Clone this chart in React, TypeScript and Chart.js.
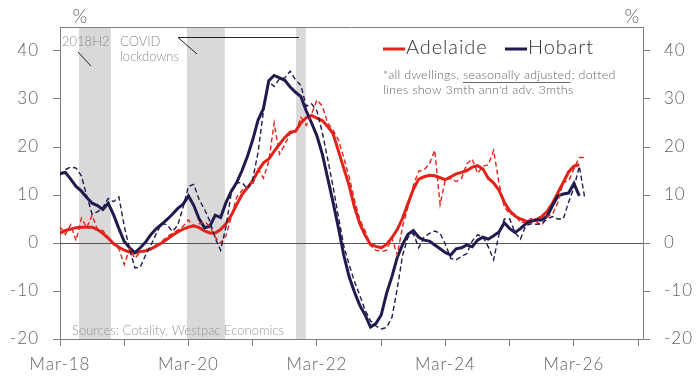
import React, { useEffect, useRef } from 'react';
import { Chart, registerables } from 'chart.js';

Chart.register(...registerables);

// months counted from Mar-18 (index 0)
const xTickLabels = ['Mar-18', 'Mar-20', 'Mar-22', 'Mar-24', 'Mar-26'];
const xTickMonths = [0, 24, 48, 72, 96];
const xAxisTicks = [0, 12, 24, 36, 48, 60, 72, 84, 96, 108];
const yTicks = [-20, -10, 0, 10, 20, 30, 40];

const shadeStarts = [3.55, 23.7, 44.1];
const shadeEnds = [9.5, 30.8, 45.9];

const adelaide = [
  2.0, 2.6, 2.9, 3.2, 3.3, 3.3, 3.3, 2.8, 2.0, 1.0,
  -0.1, -0.9, -1.5, -1.9, -2.1, -1.8, -1.6, -1.2, -0.6, 0.0,
  0.8, 1.6, 2.3, 2.9, 3.3, 3.6, 3.2, 2.5, 2.1, 2.1,
  2.8, 4.0, 5.8, 8.0, 10.1, 11.5, 13.0, 15.0, 16.7, 17.5,
  19.1, 20.6, 22.0, 23.1, 23.3, 25.0, 26.1, 26.6, 26.0, 25.5,
  24.3, 22.8, 19.2, 15.6, 12.0, 7.5, 4.0, 1.6, -0.3, -0.7,
  -1.0, -0.3, 1.1, 2.8, 5.2, 8.2, 11.2, 13.3, 13.8, 14.1,
  14.0, 13.6, 13.2, 13.8, 14.4, 14.7, 15.1, 15.8, 16.1, 15.4,
  13.5, 12.5, 11.0, 8.5, 6.7, 5.6, 5.0, 4.6, 4.5, 4.9,
  5.5, 6.6, 8.3, 10.5, 12.6, 14.8, 16.0, 16.3,
];

const adelaideDashed = [
  3.4, 1.8, 3.8, 0.5, 5.2, 3.2, 5.8, 2.8, 2.6, 1.2,
  -0.3, -1.2, -4.5, -1.2, -3.2, -1.8, -1.8, -1.3, -0.5, 0.3,
  1.3, 2.0, 2.7, 3.5, 4.8, 3.4, 4.0, 4.4, 3.5, 1.2,
  0.0, 1.5, 5.5, 9.5, 11.0, 11.5, 12.2, 15.5, 13.5, 17.0,
  25.0, 18.5, 20.5, 22.8, 23.0, 26.2, 24.5, 26.9, 29.8, 28.5,
  25.0, 23.5, 21.5, 17.8, 13.8, 9.0, 4.9, 2.5, -0.5, -1.5,
  -1.8, -1.5, 1.0, -2.5, 3.5, 7.5, 12.0, 15.0, 15.2, 16.5,
  19.3, 8.0, 13.4, 13.4, 12.8, 13.5, 16.5, 17.5, 14.5, 16.0,
  16.3, 19.3, 12.5, 7.5, 6.0, 6.0, 4.2, 4.4, 5.1, 4.4,
  3.7, 5.5, 6.0, 8.5, 12.7, 12.9, 15.5, 17.8, 17.8,
];

const hobart = [
  14.5, 14.7, 13.3, 11.8, 10.8, 9.5, 8.3, 7.8, 7.0, 8.3,
  5.9, 3.0, 0.3, -1.0, -2.0, -1.0, 0.2, 1.8, 3.0, 3.9,
  4.9, 6.0, 7.2, 8.1, 9.8, 7.8, 5.0, 3.2, 3.5, 5.8,
  5.3, 8.4, 10.8, 12.6, 15.1, 18.0, 21.5, 25.6, 28.0, 33.8,
  34.9, 34.4, 33.9, 32.5, 31.4, 30.5, 27.5, 25.0, 22.3, 18.5,
  13.5, 8.5, 3.2, -2.5, -7.0, -10.2, -13.0, -15.0, -17.5, -16.8,
  -15.0, -10.5, -7.0, -3.0, -0.3, 1.8, 2.6, 1.2, 0.6, 0.4,
  -0.4, -1.2, -2.0, -2.5, -1.2, -1.0, -0.4, -0.8, 0.6, 1.2,
  0.8, 1.5, 2.3, 4.2, 3.0, 2.2, 3.0, 4.0, 4.6, 4.8,
  4.8, 5.6, 7.8, 9.8, 10.2, 10.4, 12.4, 9.8,
];

const hobartDashed = [
  14.1, 15.3, 15.8, 15.6, 14.0, 9.8, 6.0, 6.5, 7.4, 9.3,
  8.6, 9.6, 3.5, -1.3, -5.2, -5.0, -2.5, -0.4, 2.0, 4.1,
  3.8, 2.4, 3.7, 7.5, 11.8, 12.2, 9.0, 7.0, 4.5, 1.0,
  -1.5, 3.4, 10.5, 12.5, 12.6, 11.3, 13.3, 18.9, 27.5, 33.6,
  32.6, 34.2, 34.4, 35.8, 34.0, 32.8, 28.5, 29.0, 27.5, 23.0,
  17.5, 11.8, 5.5, -0.5, -4.5, -8.0, -10.9, -14.0, -16.2, -17.3,
  -17.9, -17.6, -15.5, -9.5, -2.5, 1.2, 2.0, -1.0, 1.2, 2.0,
  2.5, 2.0, -0.3, -3.2, -3.5, -2.8, -2.2, 0.4, 1.7, 1.3,
  -0.8, -3.5, 1.8, 5.0, 5.0, 2.2, 0.8, 3.6, 4.0, 3.9,
  4.0, 5.0, 5.5, 5.0, 5.0, 8.5, 11.5, 16.0, 9.5,
];

const RED = '#e2231a';
const NAVY = '#1f1b4f';
const FONT = 'Lato, "Open Sans", sans-serif';
const AXIS = '#7f7f7f';
const TICK = '#626262';

const toPts = (arr: number[]) => arr.map((v, i) => ({ x: i, y: v }));

const setSpacing = (ctx: any, px: number) => {
  try {
    ctx.letterSpacing = `${px}px`;
  } catch (e) {
    /* ignore */
  }
};

const decorPlugin = {
  id: 'decor',
  beforeDraw(chart: any) {
    setSpacing(chart.ctx, 1);
  },
  beforeDatasetsDraw(chart: any) {
    const { ctx, chartArea, scales } = chart;
    const x = scales.x;
    const y = scales.y;
    ctx.save();
    setSpacing(ctx, 0);
    ctx.fillStyle = '#d9d9d9';
    for (let i = 0; i < shadeStarts.length; i++) {
      const a = x.getPixelForValue(shadeStarts[i]);
      const b = x.getPixelForValue(shadeEnds[i]);
      ctx.fillRect(a, chartArea.top, b - a, chartArea.bottom - chartArea.top);
    }
    // zero line
    const y0 = Math.round(y.getPixelForValue(0)) + 0.5;
    ctx.strokeStyle = '#555555';
    ctx.lineWidth = 1;
    ctx.beginPath();
    ctx.moveTo(chartArea.left, y0);
    ctx.lineTo(chartArea.right, y0);
    ctx.stroke();
    // top border
    ctx.strokeStyle = AXIS;
    ctx.beginPath();
    ctx.moveTo(chartArea.left, chartArea.top + 0.5);
    ctx.lineTo(chartArea.right, chartArea.top + 0.5);
    ctx.stroke();
    // annotations
    ctx.fillStyle = '#8c8c8c';
    ctx.font = `300 13px ${FONT}`;
    ctx.textBaseline = 'middle';
    ctx.textAlign = 'left';
    ctx.fillText('2018H2', 62, 42);
    ctx.fillText('COVID', 120, 42);
    ctx.fillText('lockdowns', 120, 57);
    ctx.fillStyle = '#999999';
    ctx.fillText('Sources: Cotality, Westpac Economics', 72, 331);
    ctx.strokeStyle = '#222222';
    ctx.lineWidth = 1;
    ctx.beginPath();
    ctx.moveTo(78, 52);
    ctx.lineTo(91, 66);
    ctx.moveTo(197, 54);
    ctx.lineTo(178, 37.5);
    ctx.lineTo(299, 37.5);
    ctx.stroke();
    ctx.restore();
  },
  afterDraw(chart: any) {
    const { ctx } = chart;
    ctx.save();
    ctx.textBaseline = 'middle';
    ctx.textAlign = 'left';
    // % labels
    setSpacing(ctx, 0);
    ctx.fillStyle = TICK;
    ctx.font = `300 19px ${FONT}`;
    ctx.textAlign = 'center';
    ctx.fillText('%', 80, 17);
    ctx.fillText('%', 632, 17);
    ctx.textAlign = 'left';
    // legend
    ctx.lineWidth = 3;
    ctx.strokeStyle = RED;
    ctx.beginPath();
    ctx.moveTo(383, 49);
    ctx.lineTo(405, 49);
    ctx.stroke();
    ctx.strokeStyle = NAVY;
    ctx.beginPath();
    ctx.moveTo(505, 49);
    ctx.lineTo(527, 49);
    ctx.stroke();
    ctx.fillStyle = '#333333';
    ctx.font = `300 20px ${FONT}`;
    setSpacing(ctx, 0.9);
    ctx.fillText('Adelaide', 406, 48);
    ctx.fillText('Hobart', 528, 48);
    // note
    ctx.fillStyle = '#666666';
    ctx.font = `300 12.5px ${FONT}`;
    setSpacing(ctx, 0.25);
    const p1 = '*all dwellings, ';
    const p2 = 'seasonally adjusted';
    const p3 = '; dotted';
    let xx = 383;
    ctx.fillText(p1, xx, 75);
    xx += ctx.measureText(p1).width;
    ctx.fillText(p2, xx, 75);
    const w2 = ctx.measureText(p2).width;
    ctx.strokeStyle = '#666666';
    ctx.lineWidth = 1;
    ctx.beginPath();
    ctx.moveTo(xx, 82.5);
    ctx.lineTo(xx + w2 - 1, 82.5);
    ctx.stroke();
    xx += w2;
    ctx.fillText(p3, xx, 75);
    ctx.fillText("lines show 3mth ann'd adv. 3mths", 383, 90);
    ctx.restore();
  },
};

export default function App() {
  const ref = useRef<HTMLCanvasElement | null>(null);
  useEffect(() => {
    if (!ref.current) return;
    const yScaleBase = (pos: 'left' | 'right') => ({
      type: 'linear' as const,
      position: pos,
      min: -20,
      max: 45,
      afterBuildTicks: (s: any) => {
        s.ticks = yTicks.map((v) => ({ value: v }));
      },
      afterFit: (s: any) => {
        s.width = pos === 'left' ? 60 : 56;
      },
      ticks: {
        color: TICK,
        font: { family: FONT, size: 17, weight: 300 },
        padding: 14,
      },
      grid: { drawOnChartArea: false, drawTicks: true, tickLength: 7, color: AXIS },
      border: { display: true, color: AXIS, width: 1 },
    });
    const chart = new Chart(ref.current, {
      type: 'line',
      data: {
        datasets: [
          {
            label: 'Hobart 3mth',
            data: toPts(hobartDashed),
            borderColor: NAVY,
            borderWidth: 1.4,
            borderDash: [5, 3],
            pointRadius: 0,
            tension: 0,
          },
          {
            label: 'Adelaide 3mth',
            data: toPts(adelaideDashed),
            borderColor: RED,
            borderWidth: 1.4,
            borderDash: [5, 3],
            pointRadius: 0,
            tension: 0,
          },
          {
            label: 'Hobart',
            data: toPts(hobart),
            borderColor: NAVY,
            borderWidth: 3,
            pointRadius: 0,
            tension: 0,
          },
          {
            label: 'Adelaide',
            data: toPts(adelaide),
            borderColor: RED,
            borderWidth: 3,
            pointRadius: 0,
            tension: 0,
          },
        ],
      },
      options: {
        animation: false,
        responsive: true,
        maintainAspectRatio: false,
        layout: { padding: { top: 27, left: 0, right: 0, bottom: 0 } },
        plugins: { legend: { display: false }, tooltip: { enabled: false } },
        scales: {
          x: {
            type: 'linear',
            min: 0,
            max: 108.9,
            afterBuildTicks: (s: any) => {
              s.ticks = xAxisTicks.map((v) => ({ value: v }));
            },
            afterFit: (s: any) => {
              s.height = 43;
            },
            ticks: {
              autoSkip: false,
              maxRotation: 0,
              color: TICK,
              font: { family: FONT, size: 17, weight: 300 },
              padding: 8,
              callback: (v: any) => {
                const i = xTickMonths.indexOf(Number(v));
                return i >= 0 ? xTickLabels[i] : '';
              },
            },
            grid: { drawOnChartArea: false, drawTicks: true, tickLength: 7, color: AXIS },
            border: { display: true, color: AXIS, width: 1 },
          },
          y: yScaleBase('left'),
          y2: yScaleBase('right'),
        },
      },
      plugins: [decorPlugin],
    });
    return () => chart.destroy();
  }, []);
  return (
    <div style={{ position: 'fixed', left: 0, top: 0, width: 699, height: 382, background: '#fff' }}>
      <canvas ref={ref} />
    </div>
  );
}
